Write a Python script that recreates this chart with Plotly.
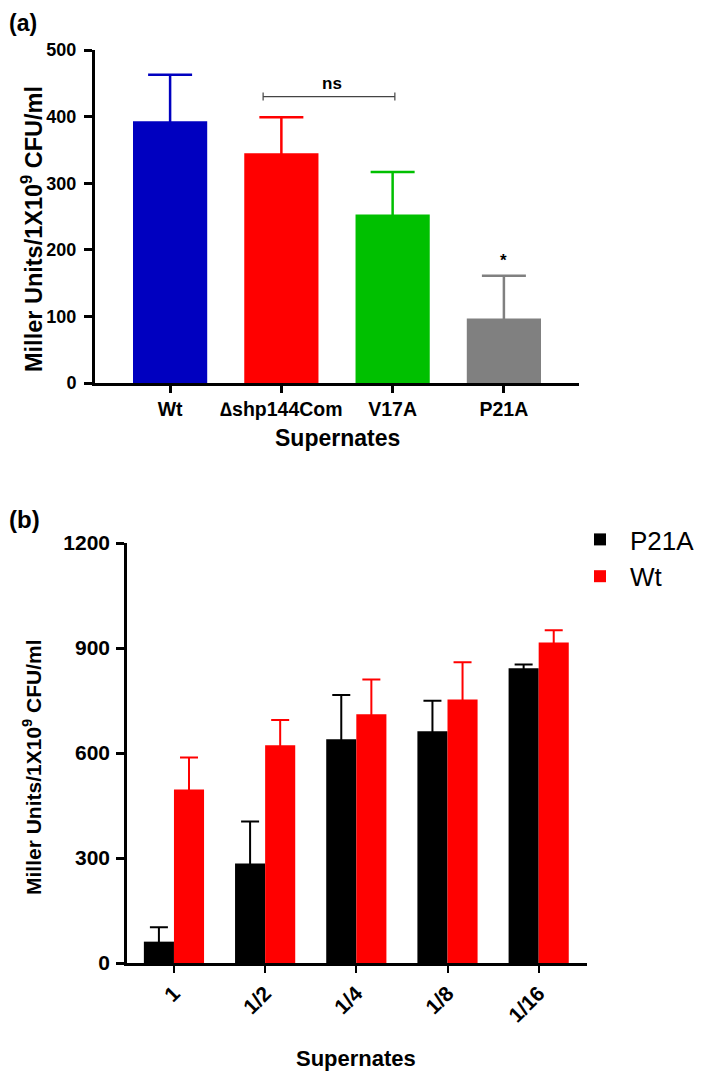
import plotly.graph_objects as go

# ---- Panel (a) data ----
a_categories = ["Wt", "\u2206shp144Com", "V17A", "P21A"]
a_values = [393, 345, 253, 97]
a_errors = [70, 54, 64, 64]
a_colors = ["#0000C0", "#FF0000", "#00C000", "#808080"]

# ---- Panel (b) data ----
b_categories = ["1", "1/2", "1/4", "1/8", "1/16"]
b_p21a = [61, 284, 639, 662, 842]
b_p21a_err = [41, 120, 127, 87, 11]
b_wt = [496, 622, 711, 753, 916]
b_wt_err = [91, 72, 99, 106, 35]

# page body adds an 8px margin; lay out in window pixels and compensate
OFF = 8
W, H = 709 - OFF, 1078 - OFF
def px(x):
    return (x - OFF) / W
def py(y):
    return 1 - (y - OFF) / H

FONT = "Liberation Sans, Arial, sans-serif"

fig = go.Figure()

# error bars run down to zero so the lower cap hides under the x-axis line
for cat, v, e, c in zip(a_categories, a_values, a_errors, a_colors):
    fig.add_trace(go.Bar(
        x=[cat], y=[v], xaxis="x", yaxis="y",
        marker=dict(color=c, line=dict(width=0)),
        width=0.667, offset=-0.3335,
        error_y=dict(type="data", array=[e], arrayminus=[v], symmetric=False,
                     color=c, thickness=2.5, width=22),
        showlegend=False, hoverinfo="x+y",
    ))

fig.add_trace(go.Bar(
    x=b_categories, y=b_p21a, name="P21A", xaxis="x2", yaxis="y2",
    marker=dict(color="#000000", line=dict(width=0)),
    width=0.33, offset=-0.33,
    error_y=dict(type="data", array=b_p21a_err, arrayminus=b_p21a, symmetric=False,
                 color="#000000", thickness=2, width=9),
))
fig.add_trace(go.Bar(
    x=b_categories, y=b_wt, name="Wt", xaxis="x2", yaxis="y2",
    marker=dict(color="#FF0000", line=dict(width=0)),
    width=0.33, offset=0,
    error_y=dict(type="data", array=b_wt_err, arrayminus=b_wt, symmetric=False,
                 color="#FF0000", thickness=2, width=9),
))

axis_common = dict(showline=True, linecolor="black", showgrid=False, zeroline=False,
                   ticks="outside", tickcolor="black", fixedrange=True, automargin=False,
                   layer="above traces")

fig.update_layout(
    template="none",
    width=W, height=H,
    margin=dict(l=0, r=0, t=0, b=0, pad=0),
    paper_bgcolor="white", plot_bgcolor="white",
    barmode="group",
    xaxis=dict(domain=[px(95), px(579)], anchor="y", type="category",
               categoryorder="array", categoryarray=a_categories,
               range=[-0.675, 3.675], linewidth=3, ticklen=7, tickwidth=3,
               tickfont=dict(family=FONT, size=19.5, color="black", weight="bold"),
               **axis_common),
    yaxis=dict(domain=[py(383), py(50)], anchor="x", range=[0, 500], dtick=100,
               linewidth=3, ticklen=8, tickwidth=3, ticklabelstandoff=4,
               tickfont=dict(family=FONT, size=18, color="black", weight="bold"),
               **axis_common),
    xaxis2=dict(domain=[px(127), px(587)], anchor="y2", type="category",
                categoryorder="array", categoryarray=b_categories,
                range=[-0.515, 4.53], linewidth=2.5, ticklen=7, tickwidth=2,
                tickangle=-45,
                tickfont=dict(family=FONT, size=21, color="black", weight="bold"),
                **axis_common),
    yaxis2=dict(domain=[py(963), py(543)], anchor="x2", range=[0, 1200], dtick=300,
                linewidth=2.5, ticklen=8, tickwidth=2.5, ticklabelstandoff=2,
                tickfont=dict(family=FONT, size=21, color="black", weight="bold"),
                **axis_common),
    legend=dict(x=px(570), y=py(516), xanchor="left", yanchor="top",
                font=dict(family=FONT, size=26, color="black"),
                itemwidth=50, tracegroupgap=0, bgcolor="rgba(0,0,0,0)", borderwidth=0),
    showlegend=True,
)

ann = [
    dict(text="(a)", x=px(23), y=py(8), yanchor="top", font=dict(family=FONT, size=23, weight="bold")),
    dict(text="(b)", x=px(24), y=py(520), font=dict(family=FONT, size=24, weight="bold")),
    dict(text="Miller Units/1X10<sup>9</sup> CFU/ml", x=px(32), y=py(229), textangle=-90,
         font=dict(family=FONT, size=23.5, weight="bold")),
    dict(text="Supernates", x=px(337), y=py(438), font=dict(family=FONT, size=23, weight="bold")),
    dict(text="Miller Units/1X10<sup>9</sup> CFU/ml", x=px(32), y=py(767), textangle=-90,
         font=dict(family=FONT, size=21, weight="bold")),
    dict(text="Supernates", x=px(356), y=py(1058), font=dict(family=FONT, size=22, weight="bold")),
]
for a in ann:
    a.setdefault("yanchor", "middle")
    a.update(xref="paper", yref="paper", showarrow=False, xanchor="center")
    a["font"]["color"] = "black"
    fig.add_annotation(**a)

# significance markers
fig.add_annotation(text="ns", x=1.455, y=450, xref="x", yref="y", showarrow=False,
                   font=dict(family=FONT, size=17, color="black", weight="bold"))
fig.add_annotation(text="*", x=3, y=166, xref="x", yref="y", showarrow=False, yanchor="bottom",
                   font=dict(family=FONT, size=17, color="black", weight="bold"))
fig.add_shape(type="line", xref="x", yref="y", x0=0.836, x1=2.02, y0=430, y1=430,
              line=dict(color="#444444", width=1.2))
for xe in (0.836, 2.02):
    fig.add_shape(type="line", xref="x", yref="y", x0=xe, x1=xe, y0=424, y1=436,
                  line=dict(color="#444444", width=1.2))

fig.write_html("out.html")
